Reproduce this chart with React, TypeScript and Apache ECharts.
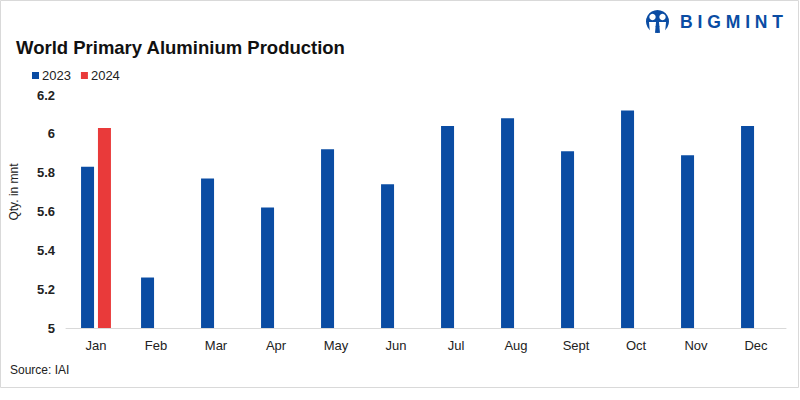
import React, { useEffect, useRef } from "react";
import * as echarts from "echarts";

const categories = ["Jan", "Feb", "Mar", "Apr", "May", "Jun", "Jul", "Aug", "Sept", "Oct", "Nov", "Dec"];
const values2023 = [5.83, 5.26, 5.77, 5.62, 5.92, 5.74, 6.04, 6.08, 5.91, 6.12, 5.89, 6.04];
const values2024: (number | null)[] = [6.03, null, null, null, null, null, null, null, null, null, null, null];
const seriesNames = ["2023", "2024"];

const BLUE = "#0a4ca3";
const RED = "#e93a3a";

export default function App() {
  const ref = useRef<HTMLDivElement>(null);
  useEffect(() => {
    if (!ref.current) return;
    const chart = echarts.init(ref.current, null, { renderer: "svg" });
    chart.setOption({
      animation: false,
      backgroundColor: "#ffffff",
      textStyle: { fontFamily: "Liberation Sans" },
      title: {
        text: "World Primary Aluminium Production",
        left: 11,
        top: 33,
        textStyle: { fontFamily: "Liberation Sans", fontWeight: "bold", fontSize: 18.5, color: "#111111" },
      },
      legend: {
        left: 27,
        top: 64,
        itemWidth: 7,
        itemHeight: 7,
        itemGap: 10,
        icon: "rect",
        textStyle: { fontFamily: "Liberation Sans", fontSize: 13, color: "#222222", padding: [0, 0, 0, -2] },
        data: seriesNames,
      },
      grid: { left: 66, right: 14, top: 95, bottom: 72 },
      xAxis: {
        type: "category",
        data: categories,
        axisLine: { lineStyle: { color: "#d9d9d9", width: 1 } },
        axisTick: { show: false },
        axisLabel: {
          margin: 11,
          fontFamily: "Liberation Sans Narrow, Liberation Sans",
          fontSize: 13,
          color: "#222222",
        },
      },
      yAxis: {
        type: "value",
        min: 5,
        max: 6.2,
        interval: 0.2,
        axisLine: { show: false },
        axisTick: { show: false },
        splitLine: { show: false },
        axisLabel: {
          margin: 11,
          fontFamily: "Liberation Sans",
          fontWeight: "bold",
          fontSize: 13,
          color: "#222222",
        },
      },
      series: [
        {
          name: seriesNames[0],
          type: "bar",
          data: values2023,
          barWidth: 13,
          barGap: "30%",
          itemStyle: { color: BLUE },
        },
        {
          name: seriesNames[1],
          type: "bar",
          data: values2024,
          barWidth: 13,
          itemStyle: { color: RED },
        },
      ],
      graphic: [
        {
          type: "rect",
          shape: { x: 0.5, y: 0.5, width: 798, height: 387 },
          style: { fill: "none", stroke: "#d9d9d9", lineWidth: 1 },
          z: -1,
        },
        {
          type: "text",
          x: 14,
          y: 192,
          rotation: Math.PI / 2,
          style: {
            text: "Qty. in mnt",
            fontFamily: "Liberation Sans Narrow, Liberation Sans",
            fontSize: 12,
            fill: "#222222",
            align: "center",
            verticalAlign: "middle",
          },
        },
        {
          type: "text",
          x: 10,
          y: 370,
          style: {
            text: "Source: IAI",
            fontFamily: "Liberation Sans Narrow, Liberation Sans",
            fontSize: 12,
            fill: "#222222",
            verticalAlign: "middle",
          },
        },
        {
          type: "group",
          children: [
            { type: "circle", shape: { cx: 657.5, cy: 21.5, r: 11.5 }, style: { fill: BLUE } },
            { type: "circle", shape: { cx: 652.5, cy: 17, r: 3.2 }, style: { fill: "#ffffff" } },
            { type: "circle", shape: { cx: 662.5, cy: 17, r: 3.2 }, style: { fill: "#ffffff" } },
            {
              type: "polygon",
              shape: { points: [[649, 22], [656, 22], [655, 33], [650, 33]] },
              style: { fill: "#ffffff" },
            },
            {
              type: "polygon",
              shape: { points: [[659, 22], [666, 22], [665, 33], [660, 33]] },
              style: { fill: "#ffffff" },
            },
            {
              type: "polygon",
              shape: { points: [[655.5, 26], [657.5, 31], [659.5, 26]] },
              style: { fill: BLUE },
            },
          ],
        },
        {
          type: "text",
          x: 680,
          y: 22,
          style: {
            text: "B I G M I N T",
            fontFamily: "Liberation Sans",
            fontWeight: "bold",
            fontSize: 17.5,
            fill: BLUE,
            verticalAlign: "middle",
          },
        },
      ],
    });
    return () => chart.dispose();
  }, []);
  return (
    <div
      ref={ref}
      style={{ position: "absolute", left: 0, top: 0, width: 800, height: 400 }}
    />
  );
}
